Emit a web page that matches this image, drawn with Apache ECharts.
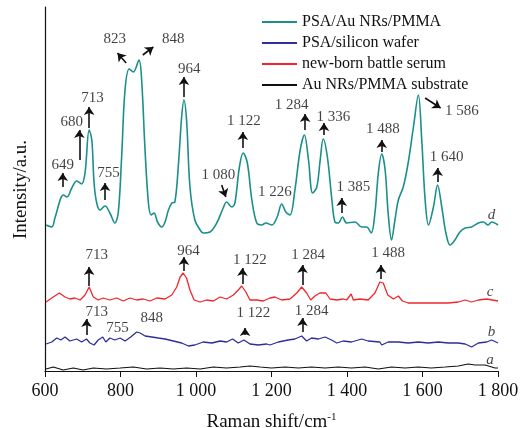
<!DOCTYPE html>
<html>
<head>
<meta charset="utf-8">
<script src="https://cdn.jsdelivr.net/npm/echarts@6/dist/echarts.min.js"></script>
<style>
  html, body { margin: 0; padding: 0; background: #fff; }
  #chart { width: 528px; height: 428px; }
</style>
</head>
<body>
<div id="chart"></div>
<script>
// x ticks
var xTicks = [600, 800, 1000, 1200, 1400, 1600, 1800];

// d: PSA/Au NRs/PMMA
var waveD = [603, 618, 627, 649, 658, 671, 684, 697, 706, 717, 724, 730, 737, 746, 759, 772, 785, 794, 803, 812, 823, 834, 849, 856, 865, 874, 881, 889, 898, 909, 918, 927, 936, 944, 953, 962, 968, 975, 984, 997, 1011, 1019, 1037, 1055, 1072, 1081, 1095, 1103, 1115, 1125, 1136, 1148, 1161, 1174, 1185, 1201, 1215, 1227, 1238, 1249, 1262, 1276, 1287, 1298, 1309, 1320, 1329, 1337, 1348, 1360, 1368, 1377, 1388, 1399, 1421, 1439, 1452, 1464, 1474, 1483, 1492, 1501, 1509, 1518, 1527, 1536, 1549, 1562, 1576, 1589, 1598, 1607, 1616, 1629, 1640, 1651, 1662, 1673, 1686, 1699, 1713, 1730, 1748, 1761, 1774, 1783, 1800];
var valD = [146, 144, 154, 176, 174, 183, 190, 187, 198, 241, 231, 188, 168, 161, 165, 158, 148, 158, 214, 281, 302, 299, 311, 291, 221, 168, 156, 158, 149, 144, 149, 161, 168, 169, 204, 254, 271, 251, 184, 151, 141, 138, 139, 148, 163, 169, 164, 168, 204, 218, 208, 171, 148, 146, 148, 146, 154, 167, 159, 156, 181, 221, 236, 211, 178, 184, 211, 232, 214, 171, 149, 148, 154, 148, 149, 144, 144, 138, 158, 198, 217, 201, 158, 131, 151, 171, 184, 208, 244, 276, 231, 171, 146, 164, 186, 164, 138, 126, 131, 139, 143, 144, 148, 149, 146, 149, 146];

// c: new-born battle serum
var waveC = [603, 618, 638, 653, 666, 679, 693, 706, 717, 728, 741, 754, 772, 790, 807, 825, 843, 860, 878, 896, 918, 936, 949, 958, 966, 975, 984, 995, 1011, 1028, 1046, 1064, 1081, 1099, 1112, 1121, 1132, 1143, 1161, 1178, 1196, 1209, 1227, 1249, 1267, 1280, 1293, 1304, 1315, 1328, 1344, 1355, 1373, 1390, 1399, 1411, 1417, 1434, 1456, 1474, 1487, 1496, 1508, 1523, 1536, 1547, 1562, 1589, 1615, 1642, 1668, 1695, 1713, 1730, 1748, 1770, 1800];
var valC = [69, 73, 78, 74, 72, 73, 71, 76, 84, 74, 71, 73, 71, 73, 70, 73, 71, 72, 70, 73, 72, 76, 84, 94, 98, 93, 81, 71, 69, 71, 70, 74, 72, 76, 81, 85, 79, 71, 71, 70, 73, 74, 71, 72, 78, 84, 78, 71, 75, 78, 78, 72, 71, 72, 71, 77, 71, 72, 71, 78, 89, 88, 76, 72, 75, 70, 68, 68, 68, 68, 68, 69, 71, 69, 71, 72, 70];

// b: PSA/silicon wafer
var waveB = [603, 618, 631, 642, 653, 666, 684, 697, 710, 719, 730, 741, 753, 761, 772, 785, 799, 812, 827, 843, 852, 865, 883, 900, 918, 940, 962, 980, 997, 1019, 1042, 1064, 1081, 1097, 1112, 1127, 1143, 1165, 1187, 1196, 1218, 1244, 1262, 1280, 1293, 1306, 1324, 1342, 1359, 1373, 1390, 1412, 1439, 1456, 1487, 1492, 1509, 1536, 1562, 1589, 1615, 1642, 1668, 1695, 1713, 1730, 1748, 1770, 1783, 1800];
var valB = [27, 29, 33, 31, 34, 30, 32, 29, 32, 28, 26, 31, 34, 29, 33, 31, 33, 30, 34, 39, 38, 35, 34, 33, 32, 30, 28, 25, 26, 29, 28, 30, 29, 32, 28, 31, 27, 26, 27, 26, 29, 31, 32, 35, 30, 33, 32, 34, 31, 28, 30, 29, 32, 30, 29, 26, 29, 29, 28, 29, 28, 29, 28, 28, 27, 24, 28, 29, 31, 28];

// a: Au NRs/PMMA substrate
var waveA = [603, 622, 648, 675, 701, 728, 763, 799, 834, 869, 905, 940, 975, 1011, 1046, 1081, 1117, 1143, 1170, 1200, 1236, 1271, 1306, 1342, 1377, 1412, 1448, 1483, 1518, 1554, 1589, 1623, 1660, 1695, 1721, 1739, 1766, 1792, 1800];
var valA = [2, 4, 1, 3, 1, 3, 2, 3, 4, 2, 3, 2, 3, 2, 4, 3, 4, 5, 4, 3, 4, 3, 4, 3, 4, 3, 4, 2, 4, 3, 4, 3, 4, 5, 7, 6, 6, 3, 3];

var names = ['PSA/Au NRs/PMMA', 'PSA/silicon wafer', 'new-born battle serum', 'Au NRs/PMMA substrate'];
var colors = ['#1b8f8a', '#2e2e9c', '#f0262c', '#111111'];

// peak arrows: [from wave, from val, to wave, to val]
var arrows = [
    [647, 184, 647, 198], [691, 211, 691, 241], [717, 243, 717, 264], [759, 171, 759, 188],
    [815, 308, 792, 318], [859, 316, 887, 324], [968, 274, 968, 294], [1068, 186, 1079, 174],
    [1124, 223, 1124, 239], [1289, 241, 1289, 257], [1339, 236, 1339, 248], [1386, 158, 1386, 173],
    [1492, 219, 1492, 231], [1607, 273, 1648, 263], [1640, 189, 1640, 203],
    [717, 85, 717, 104], [968, 100, 968, 114], [1123, 87, 1123, 103], [1282, 86, 1282, 106], [1490, 92, 1490, 106],
    [710, 36, 710, 52], [1130, 36, 1130, 43], [1282, 39, 1282, 53]
];
// peak labels: [text, wave, val]
var notes = [
    ['649', 647, 206], ['680', 671, 249], ['713', 726, 273], ['755', 768, 198], ['823', 785, 332],
    ['848', 940, 332], ['964', 982, 302], ['1 080', 1059, 196], ['1 122', 1127, 250], ['1 226', 1209, 179],
    ['1 284', 1253, 266], ['1 336', 1364, 254], ['1 385', 1417, 184], ['1 488', 1495, 242],
    ['1 586', 1704, 260], ['1 640', 1664, 214],
    ['713', 737, 116], ['964', 980, 120], ['1 122', 1143, 111], ['1 284', 1297, 116], ['1 488', 1509, 118],
    ['713', 737, 59], ['755', 792, 43], ['848', 883, 53], ['1 122', 1152, 58], ['1 284', 1306, 60]
];
// curve letters
var letters = [['d', 1783, 156], ['c', 1779, 79], ['b', 1783, 39], ['a', 1779, 11]];

function zip(xs, ys) {
    return xs.map(function (x, i) { return [x, ys[i]]; });
}

var serif = 'Liberation Serif';
var dom = document.getElementById('chart');
var myChart = echarts.init(dom);
var option = {
    animation: false,
    backgroundColor: '#fff',
    grid: { left: 45, right: 30, top: 7, bottom: 56, outerBoundsMode: 'none' },
    legend: {
        data: names,
        orient: 'vertical',
        left: 257,
        top: 9,
        itemWidth: 35,
        itemHeight: 2,
        itemGap: 5,
        icon: 'rect',
        textStyle: { fontFamily: serif, fontSize: 16, color: '#111' }
    },
    xAxis: {
        type: 'value',
        min: 600,
        max: 1800,
        interval: 200,
        name: 'Raman shift/cm{sup|-1}',
        nameLocation: 'middle',
        nameGap: 40,
        nameTextStyle: {
            fontFamily: serif, fontSize: 19, color: '#111',
            rich: { sup: { fontFamily: serif, fontSize: 11, verticalAlign: 'top', padding: [0, 0, 10, 0] } }
        },
        axisLine: { lineStyle: { color: '#111', width: 1.2 } },
        axisTick: { inside: false, length: 6, lineStyle: { color: '#111' } },
        axisLabel: {
            fontFamily: serif, fontSize: 18, color: '#111', margin: 10,
            formatter: function (v) {
                return v >= 1000 ? String(v).replace(/^(\d)(\d{3})$/, '$1 $2') : String(v);
            }
        },
        splitLine: { show: false }
    },
    yAxis: {
        type: 'value',
        min: -1,
        max: 364,
        name: 'Intensity/a.u.',
        nameLocation: 'middle',
        nameGap: 14,
        nameTextStyle: { fontFamily: serif, fontSize: 19, color: '#111' },
        axisLine: { show: true, lineStyle: { color: '#111', width: 1.2 } },
        axisTick: { show: false },
        axisLabel: { show: false },
        splitLine: { show: false }
    },
    series: [
        { name: names[0], type: 'line', data: zip(waveD, valD), smooth: 0.35, showSymbol: false, lineStyle: { color: colors[0], width: 1.6 }, itemStyle: { color: colors[0] } },
        { name: names[1], type: 'line', data: zip(waveB, valB), showSymbol: false, lineStyle: { color: colors[1], width: 1.3 }, itemStyle: { color: colors[1] } },
        { name: names[2], type: 'line', data: zip(waveC, valC), showSymbol: false, lineStyle: { color: colors[2], width: 1.3 }, itemStyle: { color: colors[2] } },
        { name: names[3], type: 'line', data: zip(waveA, valA), showSymbol: false, lineStyle: { color: colors[3], width: 1.2 }, itemStyle: { color: colors[3] } },
        {
            // arrows
            type: 'line',
            data: [],
            markLine: {
                silent: true,
                symbol: ['none', 'arrow'],
                symbolSize: 8,
                label: { show: false },
                itemStyle: { color: '#111' },
                lineStyle: { color: '#111', width: 1.6, type: 'solid' },
                data: arrows.map(function (a) {
                    return [{ coord: [a[0], a[1]] }, { coord: [a[2], a[3]] }];
                })
            }
        },
        {
            // peak labels
            type: 'scatter',
            symbolSize: 0,
            silent: true,
            data: notes.map(function (n) { return { value: [n[1], n[2]], name: n[0] }; }),
            label: {
                show: true, position: 'inside',
                formatter: function (p) { return p.name; },
                fontFamily: serif, fontSize: 15, color: '#111'
            }
        },
        {
            type: 'scatter',
            symbolSize: 0,
            silent: true,
            data: letters.map(function (n) { return { value: [n[1], n[2]], name: n[0] }; }),
            label: {
                show: true, position: 'inside',
                formatter: function (p) { return p.name; },
                fontFamily: serif, fontStyle: 'italic', fontSize: 15, color: '#111'
            }
        }
    ]
};
myChart.setOption(option, true);
</script>
</body>
</html>
